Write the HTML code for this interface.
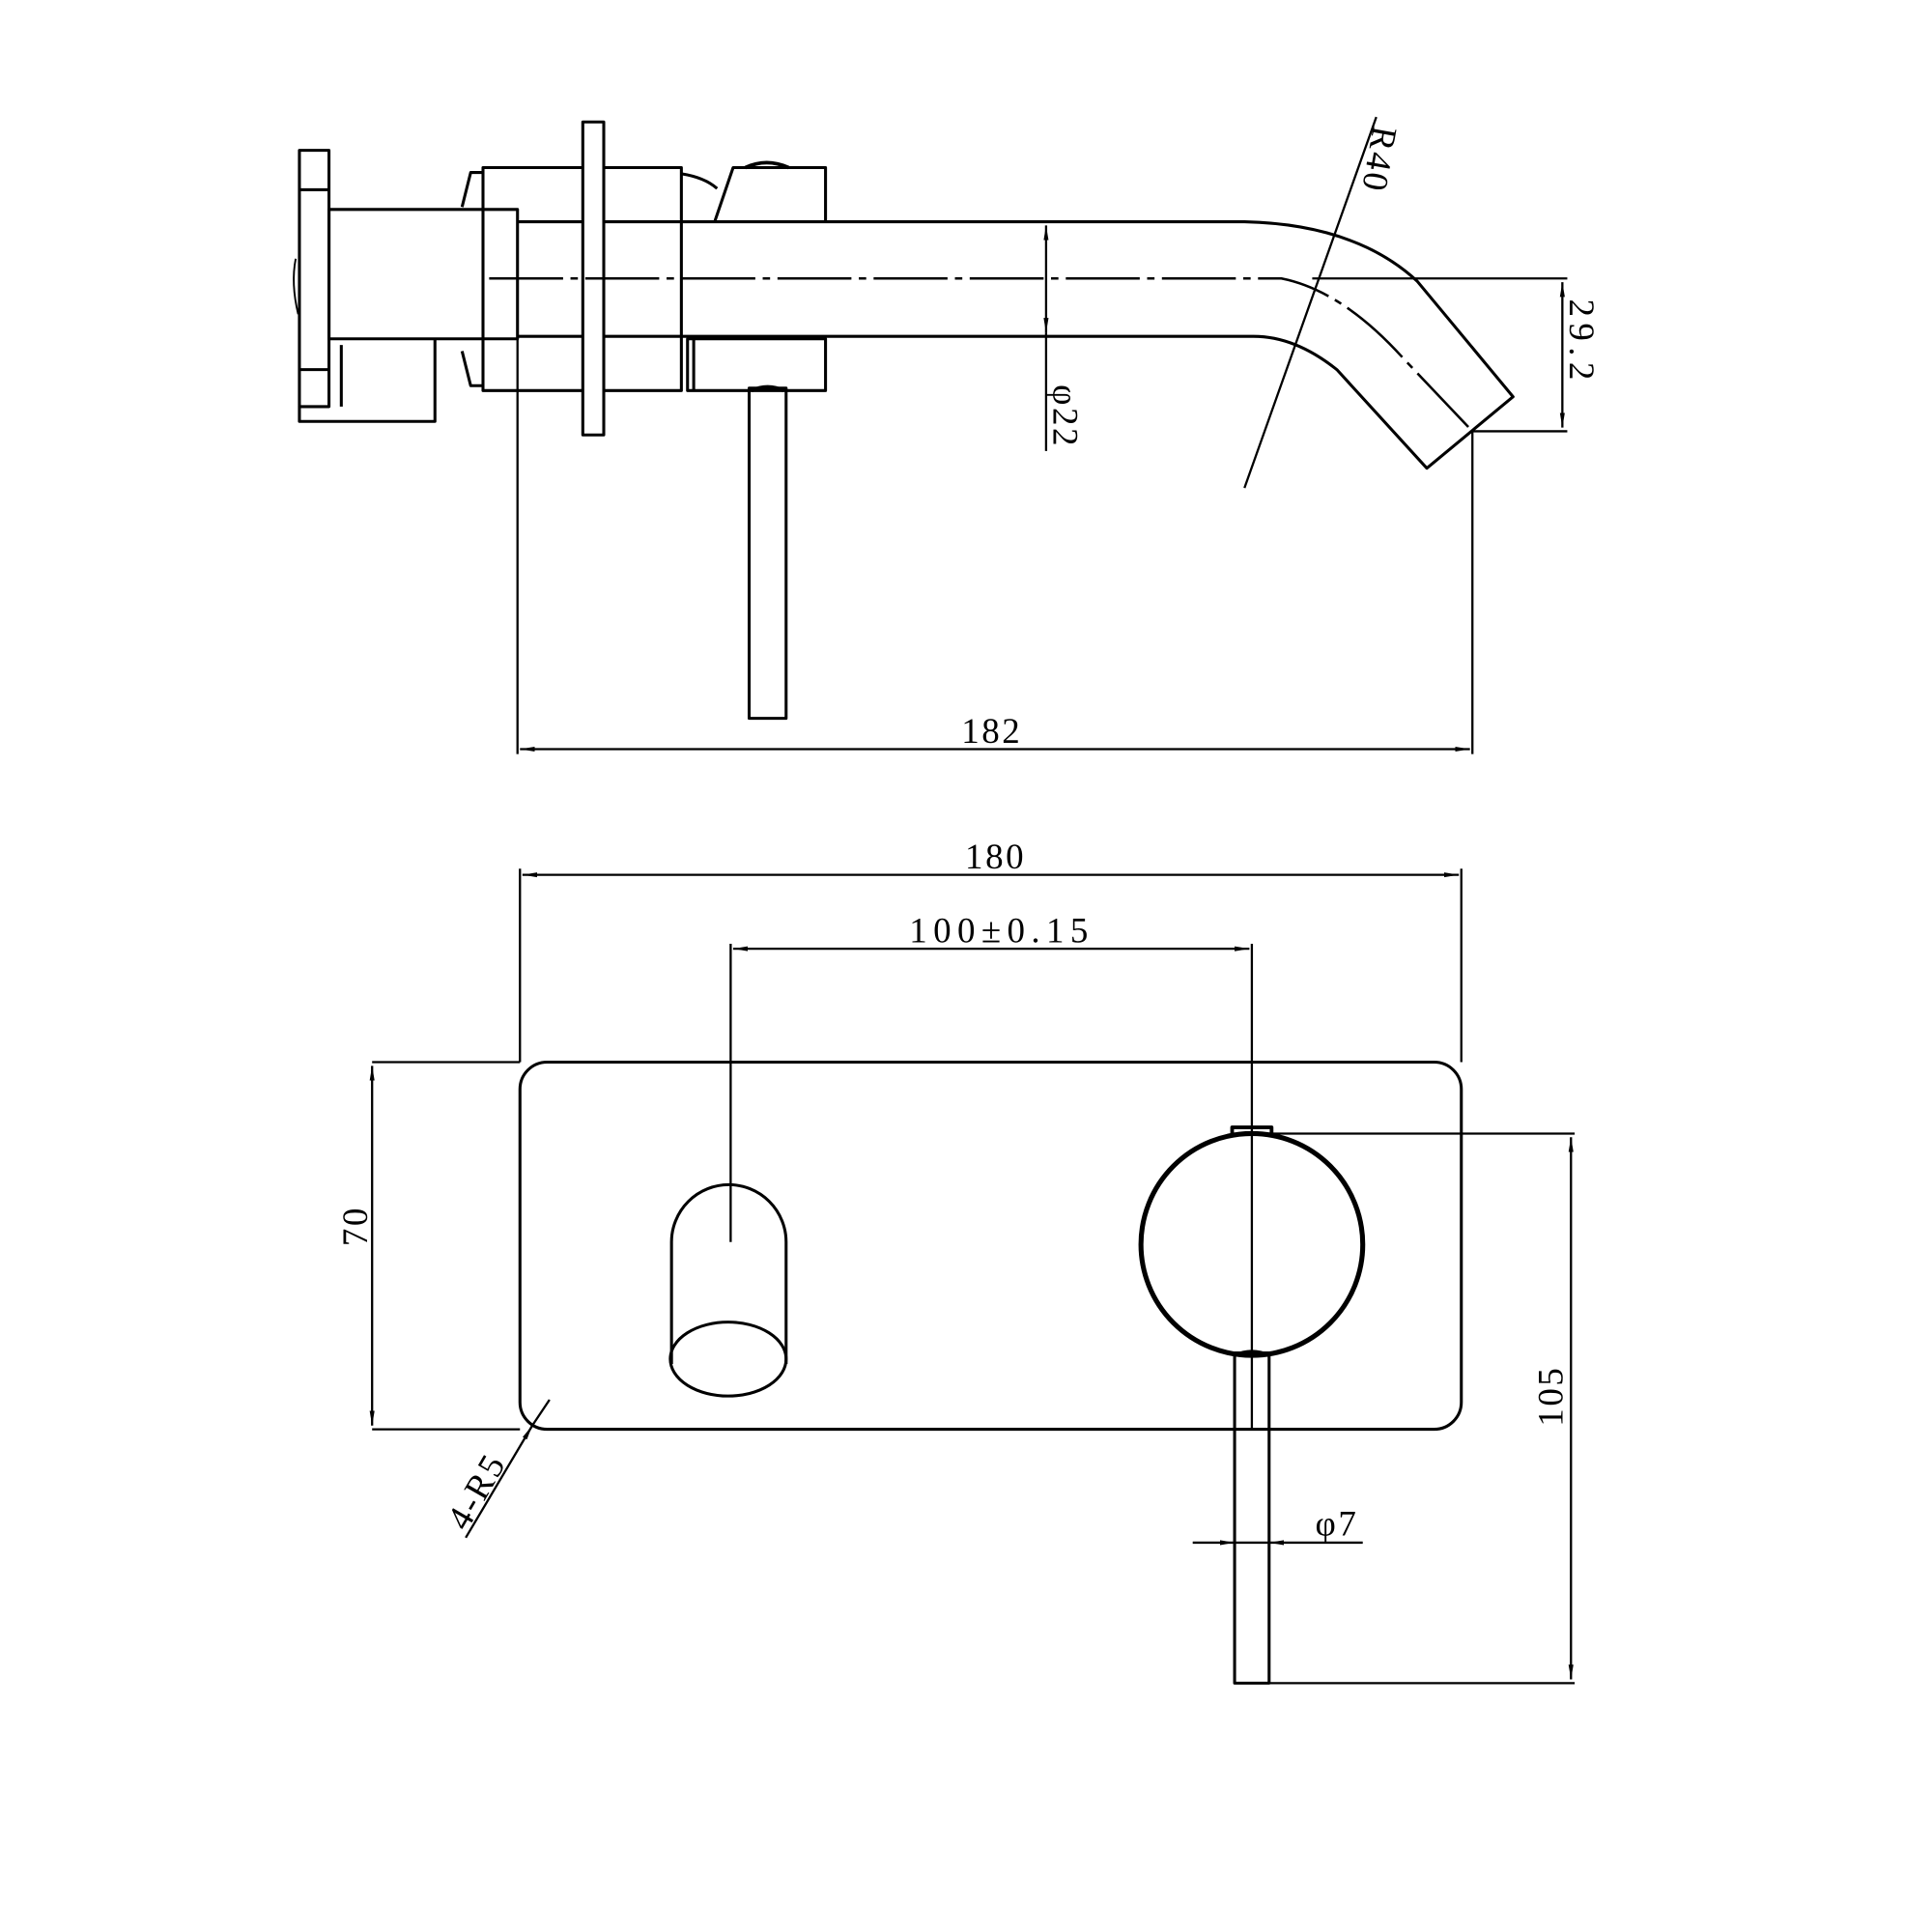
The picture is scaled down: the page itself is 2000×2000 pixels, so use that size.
<!DOCTYPE html>
<html><head><meta charset="utf-8"><style>
html,body{margin:0;padding:0;background:#fff;}
svg{display:block;}
text{font-family:"Liberation Serif","DejaVu Serif",serif;fill:#000;}
</style></head><body>
<svg width="2000" height="2000" viewBox="0 0 1568 1568" xmlns="http://www.w3.org/2000/svg">
<defs>
<marker id="a" viewBox="0 0 12 6" refX="12" refY="3" markerWidth="12" markerHeight="6" orient="auto-start-reverse" markerUnits="userSpaceOnUse"><path d="M0,1 L12,3 L0,5 z" fill="#000"/></marker>
</defs>
<g fill="none" stroke="#000" stroke-width="2.4" stroke-linejoin="round">
<!-- TOP VIEW -->
<rect x="243" y="122" width="24" height="208"/>
<line x1="243" y1="154" x2="267" y2="154"/>
<line x1="243" y1="300" x2="267" y2="300"/>
<rect x="267" y="170" width="153" height="105"/>
<polyline points="243,330 243,342 353,342 353,275"/>
<line x1="277" y1="280" x2="277" y2="330"/>
<path d="M240,210 Q236,230 242,255" stroke-width="1.5"/>
<rect x="392" y="136" width="161" height="181"/>
<polyline points="392,140 382,140 375,168"/>
<polyline points="392,313 382,313 375,285"/>
<rect x="473" y="99" width="17" height="254" fill="#fff"/>
<line x1="420" y1="180" x2="473" y2="180"/><line x1="420" y1="273" x2="473" y2="273"/>
<path d="M553,141 Q572,144 582,153"/>
<polyline points="580,180 595,136 670,136 670,180"/>
<path d="M605,136 Q622,128 640,136" stroke-width="3"/>
<rect x="558" y="275" width="112" height="42"/>
<line x1="563" y1="275" x2="563" y2="317"/>
<rect x="608" y="315" width="30" height="268"/>
<path d="M610,317 Q623,311 636,317" stroke-width="3"/>
<!-- spout tube -->
<path d="M490,180 L1010,180 Q1100,182 1150,228 L1228,322 L1158,380 L1085,300 Q1050,272 1015,273 L490,273"/>
<path d="M397,226 L1040,226 Q1090,236 1140,292 L1195,350" stroke-dasharray="60,6,6,6" stroke-width="2"/>
<!-- R40 leader -->
<line x1="1117" y1="95" x2="1010" y2="396" stroke-width="1.8"/>
<!-- 29.2 -->
<line x1="1065" y1="226" x2="1272" y2="226" stroke-width="1.8"/>
<line x1="1195" y1="350" x2="1272" y2="350" stroke-width="1.8"/>
<line x1="1268" y1="229" x2="1268" y2="347" marker-start="url(#a)" marker-end="url(#a)" stroke-width="1.8"/>
<!-- phi22 -->
<line x1="849" y1="183" x2="849" y2="270" marker-start="url(#a)" marker-end="url(#a)" stroke-width="1.8"/>
<line x1="849" y1="270" x2="849" y2="366" stroke-width="1.8"/>
<!-- 182 -->
<line x1="420" y1="275" x2="420" y2="612" stroke-width="1.8"/>
<line x1="1195" y1="350" x2="1195" y2="612" stroke-width="1.8"/>
<line x1="422" y1="608" x2="1193" y2="608" marker-start="url(#a)" marker-end="url(#a)" stroke-width="1.8"/>

<!-- BOTTOM VIEW -->
<rect x="422" y="862" width="764" height="298" rx="22"/>
<line x1="422" y1="705" x2="422" y2="862" stroke-width="1.8"/>
<line x1="1186" y1="705" x2="1186" y2="862" stroke-width="1.8"/>
<line x1="424" y1="710" x2="1184" y2="710" marker-start="url(#a)" marker-end="url(#a)" stroke-width="1.8"/>
<line x1="593" y1="766" x2="593" y2="1008" stroke-width="1.8"/>
<line x1="1016" y1="766" x2="1016" y2="1160" stroke-width="1.8"/>
<line x1="595" y1="770" x2="1014" y2="770" marker-start="url(#a)" marker-end="url(#a)" stroke-width="1.8"/>
<path d="M545,1107 L545,1008 A46,46 0 0 1 638,1008 L638,1107"/>
<ellipse cx="591" cy="1103" rx="47" ry="30"/>
<circle cx="1016" cy="1010" r="90" stroke-width="4"/>
<path d="M1000,920 L1000,915 L1032,915 L1032,920" stroke-width="3"/>
<rect x="1002" y="1098" width="28" height="268"/>
<path d="M1002,1100 Q1016,1094 1030,1100" stroke-width="3"/>
<!-- 105 -->
<line x1="1030" y1="920" x2="1278" y2="920" stroke-width="1.8"/>
<line x1="1030" y1="1366" x2="1278" y2="1366" stroke-width="1.8"/>
<line x1="1275" y1="923" x2="1275" y2="1363" marker-start="url(#a)" marker-end="url(#a)" stroke-width="1.8"/>
<!-- 70 -->
<line x1="302" y1="862" x2="422" y2="862" stroke-width="1.8"/>
<line x1="302" y1="1160" x2="422" y2="1160" stroke-width="1.8"/>
<line x1="302" y1="865" x2="302" y2="1157" marker-start="url(#a)" marker-end="url(#a)" stroke-width="1.8"/>
<!-- 4-R5 -->
<line x1="378" y1="1248" x2="432" y2="1157" marker-end="url(#a)" stroke-width="1.8"/>
<line x1="432" y1="1157" x2="446" y2="1136" stroke-width="1.8"/>
<!-- phi7 -->
<line x1="968" y1="1252" x2="1002" y2="1252" marker-end="url(#a)" stroke-width="1.8"/>
<line x1="1106" y1="1252" x2="1030" y2="1252" marker-end="url(#a)" stroke-width="1.8"/>
<line x1="1002" y1="1252" x2="1030" y2="1252" stroke-width="1.8"/>
</g>
<g font-size="29" letter-spacing="2">
<text x="805" y="603" text-anchor="middle">182</text>
<text x="808" y="705" text-anchor="middle">180</text>
<text x="813" y="765" text-anchor="middle" letter-spacing="5">100±0.15</text>
<text x="1085" y="1246" text-anchor="middle">φ7</text>
<text transform="translate(1110,128) rotate(100)" text-anchor="middle">R40</text>
<text transform="translate(1274,278) rotate(90)" text-anchor="middle" letter-spacing="5">29.2</text>
<text transform="translate(855,338) rotate(90)" text-anchor="middle">φ22</text>
<text transform="translate(298,995) rotate(-90)" text-anchor="middle">70</text>
<text transform="translate(1268,1133) rotate(-90)" text-anchor="middle">105</text>
<text transform="translate(395,1215) rotate(-60)" text-anchor="middle">4-R5</text>
</g>
</svg>
</body></html>
